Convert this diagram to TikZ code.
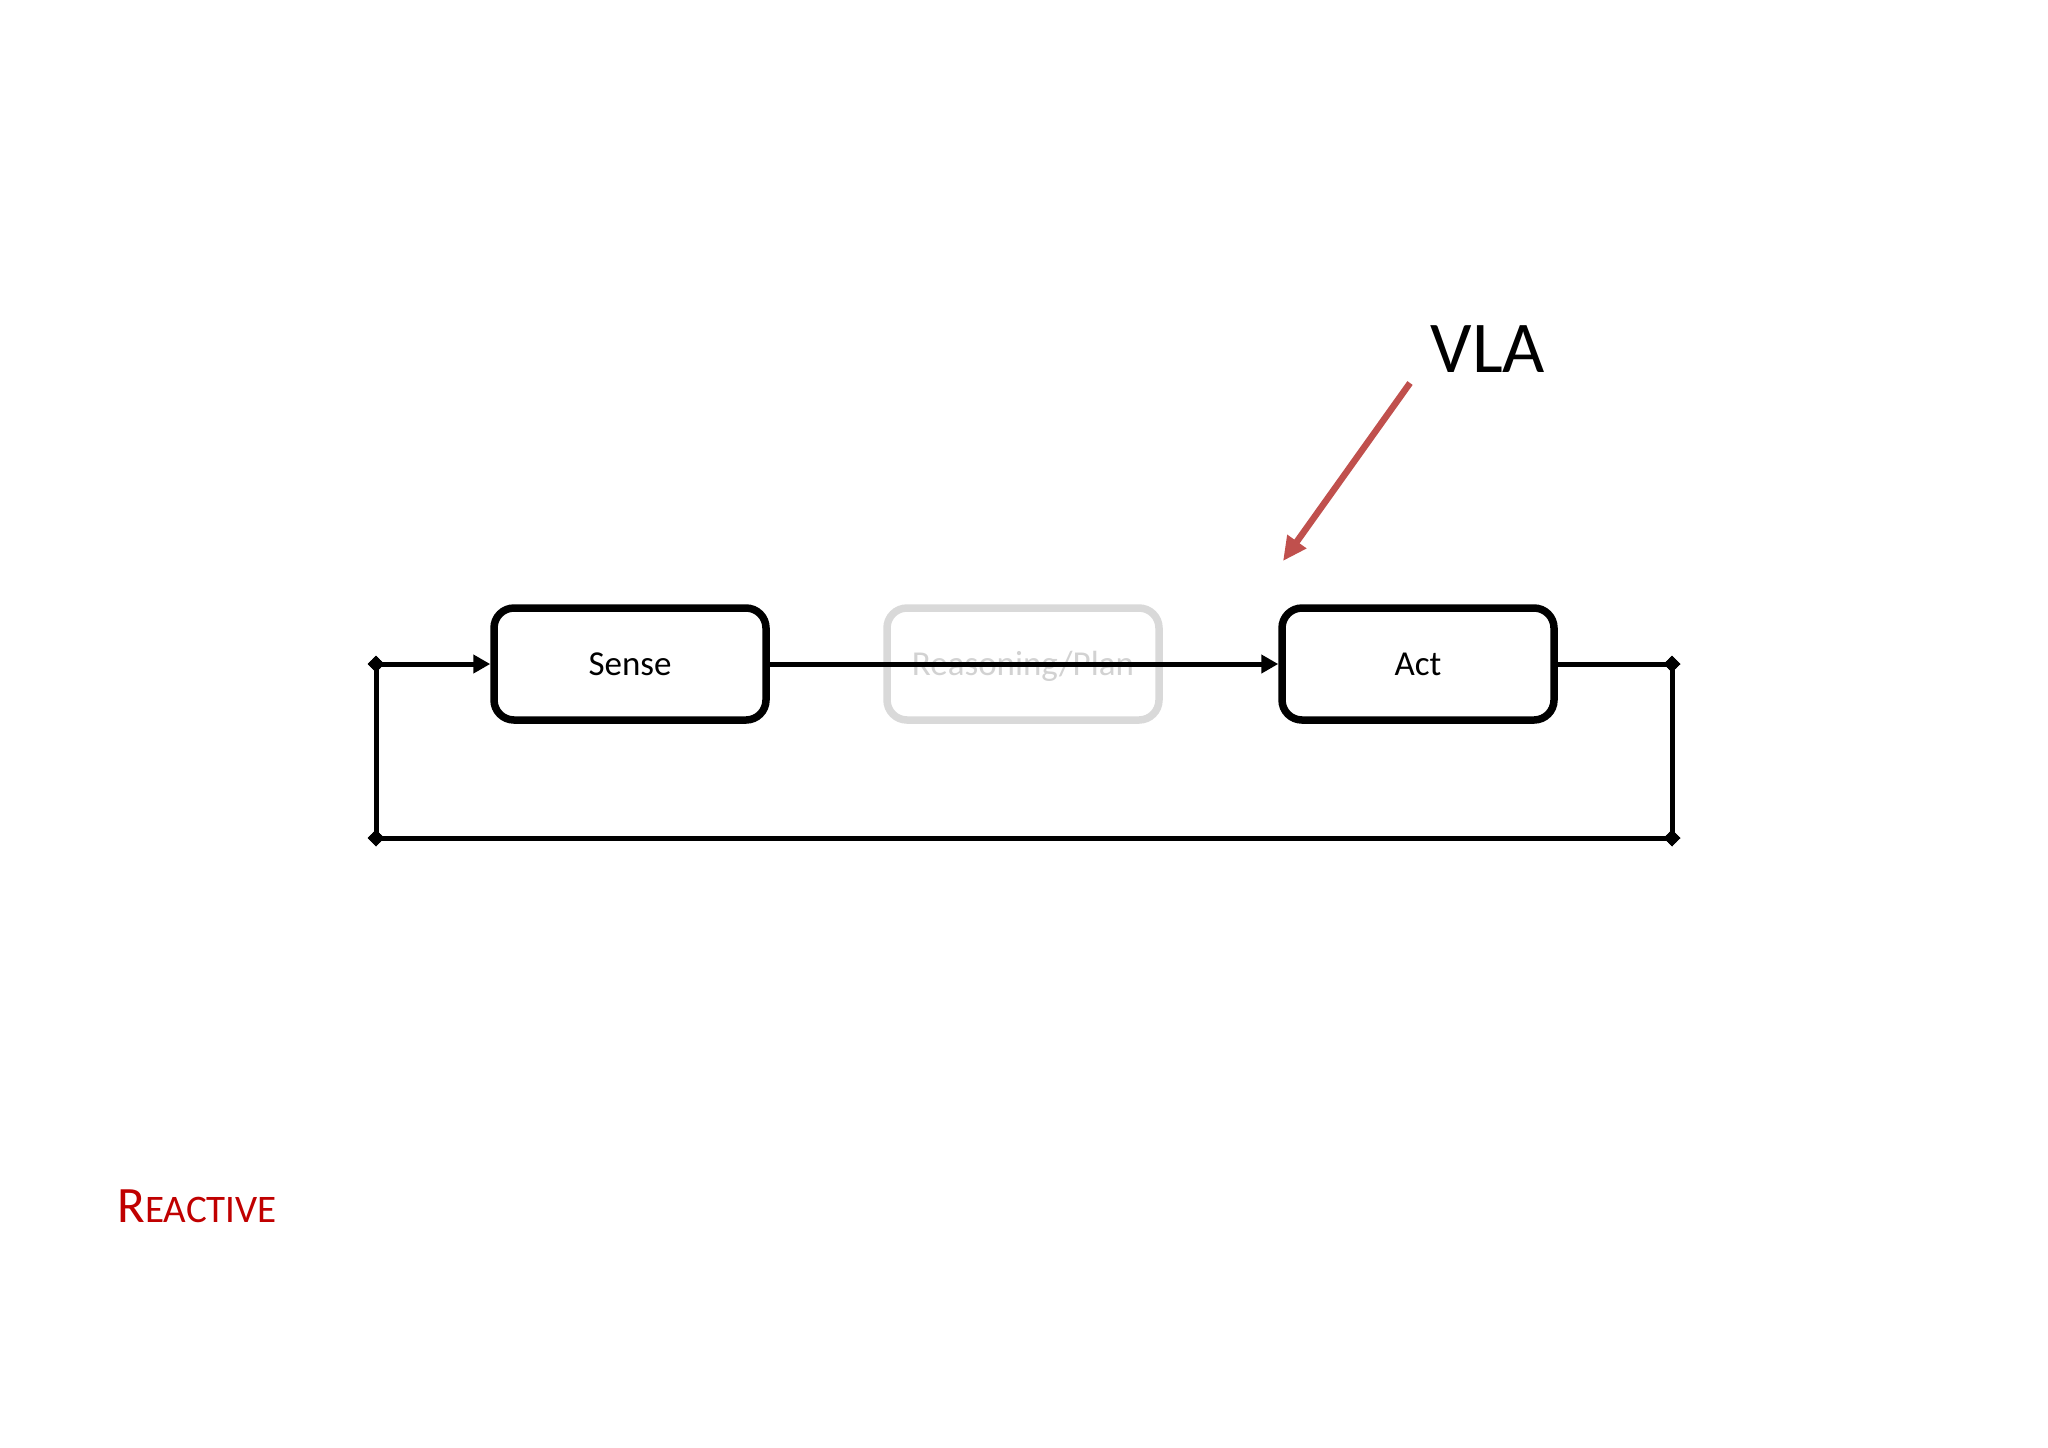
\documentclass[tikz,border=0pt]{standalone}
\usepackage{fontspec}
\setmainfont{Carlito}
\usetikzlibrary{arrows.meta}
\definecolor{vlared}{HTML}{C0504D}
\definecolor{reactred}{HTML}{C00000}
\definecolor{ghost}{HTML}{D9D9D9}
\definecolor{ghosttext}{HTML}{D2D2D2}
\begin{document}
\begin{tikzpicture}[x=0.5pt,y=-0.5pt,
  stagebox/.style={draw, line width=3.75pt, rounded corners=10pt,
    minimum width=136pt, minimum height=56pt, inner sep=0pt,
    font=\fontsize{17.5pt}{21pt}\selectfont, text height=11.3pt, text depth=0pt},
  ghostbox/.style={stagebox, draw=ghost, text=ghosttext},
  flow/.style={line width=2.5pt, black},
  dia/.tip={Diamond[length=8pt,width=8.5pt]},
  tri/.tip={Triangle[length=8.5pt,width=9pt]},
  pointer/.style={line width=3.25pt, vlared, -{Triangle[length=12pt,width=11pt]}}
]
\useasboundingbox (0,0) rectangle (2048,1447);

% stages
\node[stagebox] (sense) at (630,664) {Sense};
\node[ghostbox] (plan) at (1023,664) {Reasoning/Plan};
\node[stagebox] (act) at (1418,664) {Act};

% loop corners
\coordinate (tr) at (1672,664);
\coordinate (br) at (1672,838);
\coordinate (bl) at (376,838);
\coordinate (tl) at (376,664);

% forward flow
\draw[flow, -tri] (sense.east) -- (act.west);

% feedback loop
\draw[flow, -dia, shorten >=-4pt] (act.east) -- (tr);
\draw[flow, dia-dia, shorten <=-4pt, shorten >=-4pt] (tr) -- (br);
\draw[flow, dia-dia, shorten <=-4pt, shorten >=-4pt] (br) -- (bl);
\draw[flow, dia-dia, shorten <=-4pt, shorten >=-4pt] (bl) -- (tl);
\draw[flow, dia-tri, shorten <=-4pt] (tl) -- (sense.west);

% VLA label and pointer
\node[anchor=base, font=\fontsize{36.5pt}{44pt}\selectfont, inner sep=0pt] (vla) at (1488,372) {VLA};
\coordinate (vs) at (1410,383);
\coordinate (vt) at (1283,561);
\draw[pointer] (vs) -- (vt);

% title
\node[anchor=base west, inner sep=0pt, text=reactred] (title) at (117,1222)
  {\fontsize{25.5pt}{30pt}\selectfont R\fontsize{19.5pt}{24pt}\selectfont EACTIVE};
\end{tikzpicture}
\end{document}
